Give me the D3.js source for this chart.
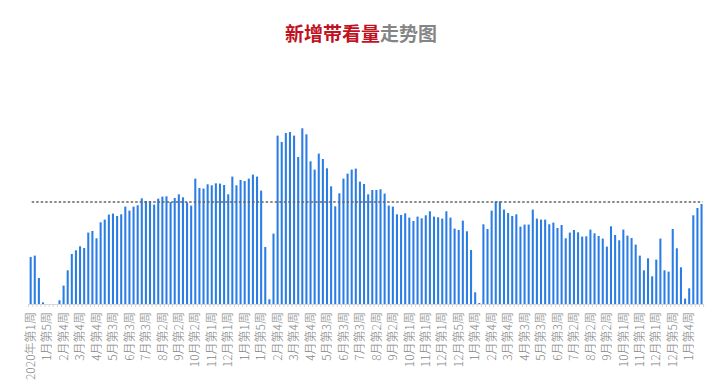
<!DOCTYPE html>
<html lang="zh">
<head>
<meta charset="utf-8">
<title>新增带看量走势图</title>
<style>
  html, body {margin: 0; padding: 0; background: #fff;}
  svg {display: block; font-family: "Noto Sans CJK SC", "Noto Sans", sans-serif;}
</style>
</head>
<body>
<div id="chart"></div>
<script src="https://cdn.jsdelivr.net/npm/d3@7/dist/d3.min.js"></script>
<script>
  // weeks per month, by year (last year is still running)
  var years = [2020, 2021, 2022, 2023];
  var weeksPerMonth = [
    [5, 4, 4, 5, 4, 4, 5, 4, 4, 5, 4, 4],
    [5, 4, 4, 5, 4, 4, 5, 4, 5, 4, 4, 5],
    [4, 4, 5, 4, 4, 5, 4, 4, 5, 4, 4, 5],
    [4, 3]
  ];

  var categories = [];
  years.forEach(function (yr, yi) {
    weeksPerMonth[yi].forEach(function (n, mi) {
      for (var w = 1; w <= n; w++) {
        if (categories.length === 0) categories.push(yr + '年第' + w + '周');
        else categories.push((mi + 1) + '月第' + w + '周');
      }
    });
  });

  // weekly new viewings
  var values2020 = [470, 484, 260, 17, 0, 0, 0, 37, 184, 337, 500, 537, 577, 560, 714, 730, 657, 817, 844, 894,
    904, 880, 897, 974, 934, 974, 987, 1057, 1030, 1030, 994, 1054, 1074, 1077, 1020, 1060, 1097, 1067, 1017, 984,
    1254, 1160, 1154, 1197, 1187, 1207, 1204, 1190, 1097, 1274, 1187, 1240];
  var values2021 = [1230, 1254, 1294, 1274, 1134, 570, 47, 704, 1684, 1620, 1710, 1720, 1684, 1470, 1757, 1697,
    1427, 1344, 1504, 1450, 1357, 1177, 977, 1107, 1254, 1304, 1344, 1354, 1224, 1200, 1097, 1140, 1140, 1147, 1104,
    984, 974, 897, 890, 907, 864, 830, 874, 857, 887, 927, 874, 867, 854, 927, 864, 754, 740];
  var values2022 = [834, 727, 540, 117, 10, 797, 750, 934, 1027, 1027, 944, 910, 880, 897, 774, 794, 794, 944, 854,
    844, 844, 797, 814, 760, 790, 657, 714, 740, 717, 674, 677, 744, 707, 680, 654, 574, 777, 690, 637, 744, 684,
    660, 594, 484, 337, 457, 277, 444, 654, 337, 324, 750];
  var values2023 = [557, 367, 54, 157, 887, 960, 1000];
  var values = values2020.concat(values2021, values2022, values2023);

  var refValue = 1020;
  var yMax = 2000;
  var labelEvery = 4;

  var width = 724, height = 389;
  var svg = d3.select('#chart').append('svg')
    .attr('width', width)
    .attr('height', height);

  var title = svg.append('text')
    .attr('x', 361)
    .attr('y', 41)
    .attr('text-anchor', 'middle')
    .style('font-size', '19px')
    .style('font-weight', 'bold');
  title.append('tspan').attr('fill', '#c1121f').text('新增带看量');
  title.append('tspan').attr('fill', '#858585').text('走势图');

  // category names repeat across years, so the band scale is keyed by index
  var x = d3.scaleBand()
    .domain(d3.range(categories.length))
    .range([28.6, 703.6])
    .paddingInner(0.5)
    .paddingOuter(0.25);

  var y = d3.scaleLinear()
    .domain([0, yMax])
    .range([304, 104]);

  svg.append('g').selectAll('rect')
    .data(values)
    .enter().append('rect')
    .attr('x', function (d, i) { return x(i); })
    .attr('width', x.bandwidth())
    .attr('y', function (d) { return y(d); })
    .attr('height', function (d) { return y(0) - y(d); })
    .attr('fill', '#2b7de6');

  // x axis
  var xAxis = d3.axisBottom(x)
    .tickSize(0)
    .tickValues(d3.range(0, categories.length, labelEvery))
    .tickFormat(function (i) { return categories[i]; });

  var gx = svg.append('g')
    .attr('transform', 'translate(0,' + y(0) + ')')
    .call(xAxis);
  gx.select('.domain').attr('stroke', '#d6d6d6');
  gx.selectAll('.tick text')
    .attr('transform', 'rotate(-90)')
    .attr('x', -8)
    .attr('y', 0)
    .attr('dy', '0.35em')
    .attr('text-anchor', 'end')
    .attr('fill', '#868686')
    .style('font-size', '12px')
    .style('font-weight', '300')
    .style('font-family', '"Noto Sans CJK SC", sans-serif');

  // small ticks between categories
  var step = x.step();
  svg.append('g').selectAll('line')
    .data(d3.range(categories.length + 1))
    .enter().append('line')
    .attr('x1', function (i) { return x.range()[0] + i * step; })
    .attr('x2', function (i) { return x.range()[0] + i * step; })
    .attr('y1', y(0))
    .attr('y2', y(0) + 3)
    .attr('stroke', '#d6d6d6');

  // reference line
  svg.append('line')
    .attr('x1', x(0) + x.bandwidth())
    .attr('x2', x(categories.length - 1) + x.bandwidth())
    .attr('y1', y(refValue))
    .attr('y2', y(refValue))
    .attr('stroke', '#666')
    .attr('stroke-width', 1.3)
    .attr('stroke-dasharray', '2.5,2');
</script>
</body>
</html>
